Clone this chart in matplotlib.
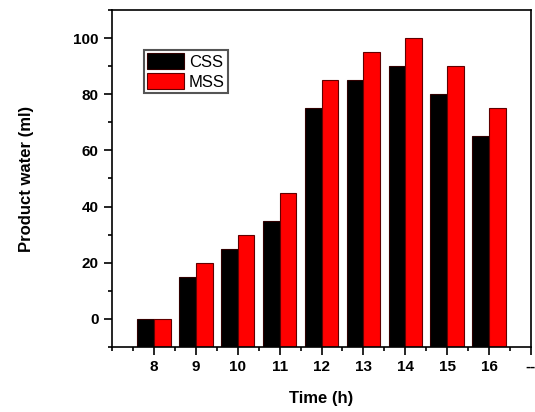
import matplotlib
matplotlib.use("Agg")
import matplotlib.pyplot as plt
from matplotlib.ticker import MultipleLocator
import numpy as np

plt.rcParams['font.family'] = ['Liberation Sans', 'DejaVu Sans']

hours = [8, 9, 10, 11, 12, 13, 14, 15, 16]
css = [0, 15, 25, 35, 75, 85, 90, 80, 65]
mss = [0, 20, 30, 45, 85, 95, 100, 90, 75]
xticks = [8, 9, 10, 11, 12, 13, 14, 15, 16, 17]
xticklabels = ['8', '9', '10', '11', '12', '13', '14', '15', '16', '--']

base = -10  # bars start at the bottom of the frame

fig = plt.figure(figsize=(5.35, 4.12), dpi=100)
ax = fig.add_axes([112/535, 1 - 347/412, (531-112)/535, (347-10)/412])

x = np.array(hours)
w = 0.4
ax.bar(x - w/2, np.array(css) - base, bottom=base, width=w, color='black',
       edgecolor='#300000', linewidth=0.8, label='CSS')
ax.bar(x + w/2, np.array(mss) - base, bottom=base, width=w, color='#ff0000',
       edgecolor='#600000', linewidth=0.8, label='MSS')

ax.set_xlim(7, 17)
ax.set_ylim(-10, 110)
ax.set_xticks(xticks)
ax.set_xticklabels(xticklabels)
ax.xaxis.set_minor_locator(MultipleLocator(0.5))
ax.set_yticks([0, 20, 40, 60, 80, 100])
ax.yaxis.set_minor_locator(MultipleLocator(10))

ax.tick_params(which='major', direction='out', length=6, width=1.2,
               labelsize=11, top=False, right=False)
ax.tick_params(which='minor', direction='out', length=3, width=1.2,
               top=False, right=False)
for lab in ax.get_xticklabels() + ax.get_yticklabels():
    lab.set_fontweight('bold')
for s in ax.spines.values():
    s.set_linewidth(1.2)

ax.set_xlabel('Time (h)', fontsize=12, fontweight='bold', labelpad=12)
ax.set_ylabel('Product water (ml)', fontsize=12, fontweight='bold', labelpad=28)

leg = ax.legend(loc='upper left', bbox_to_anchor=(0.076, 0.881), fontsize=12,
                handlelength=2.2, handleheight=1.1, handletextpad=0.3,
                labelspacing=0.2, borderpad=0.2, borderaxespad=0,
                fancybox=False, framealpha=1)
leg.get_frame().set_edgecolor('#555555')
leg.get_frame().set_linewidth(1.5)

fig.savefig('out.png', dpi=100)
